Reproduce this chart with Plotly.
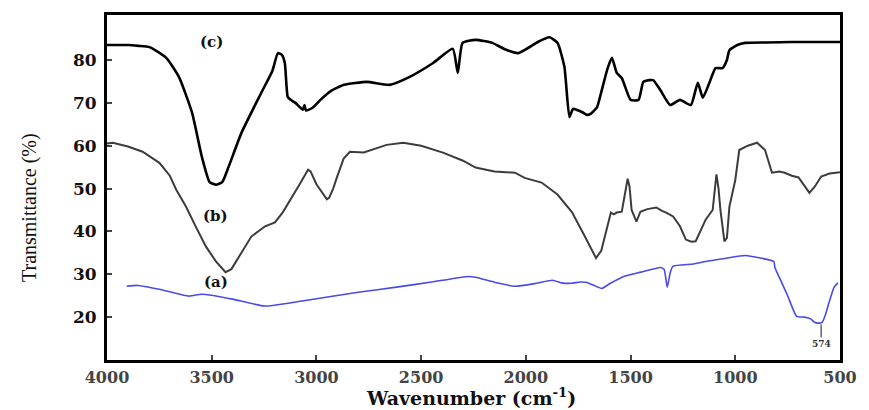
import plotly.graph_objects as go

# Curve (c) - black
c_wn = [4000, 3900, 3850, 3797, 3717, 3656, 3594, 3547, 3510, 3480, 3450, 3420, 3358, 3264, 3210, 3184, 3165, 3151, 3137, 3123,
        3100, 3065, 3057, 3050, 3020, 2981, 2930, 2868, 2760, 2651, 2557, 2443, 2349, 2325, 2302, 2240, 2160, 2100, 2038,
        1990, 1943, 1887, 1849, 1816, 1792, 1775, 1759, 1730, 1708, 1689, 1660, 1641, 1610, 1589, 1566, 1542, 1500, 1462,
        1439, 1410, 1392, 1358, 1311, 1264, 1212, 1179, 1155, 1125, 1094, 1061, 1040, 1028, 990, 953, 850, 731, 600, 519, 500]
c_t = [83.5, 83.5, 83.3, 83.0, 80.5, 76.0, 67.7, 57.4, 51.5, 50.9, 51.5, 55.0, 63.0, 72.3, 77.5, 81.6, 81.2, 79.3, 71.4, 70.7,
       70.0, 68.4, 69.5, 68.2, 68.8, 70.7, 72.8, 74.2, 74.9, 74.2, 76.0, 79.3, 82.6, 77.0, 84.0, 84.7, 84.0, 82.5, 81.6,
       82.8, 84.2, 85.3, 84.0, 78.4, 66.7, 68.6, 68.4, 67.8, 67.2, 67.5, 69.0, 72.3, 78.0, 80.5, 77.0, 75.8, 70.7, 70.7,
       74.9, 75.3, 75.3, 73.0, 69.5, 70.7, 69.5, 74.7, 71.2, 74.5, 78.1, 78.1, 80.0, 82.3, 83.5, 84.0, 84.1, 84.2, 84.2, 84.2, 84.2]

# Curve (b) - gray
b_wn = [4000, 3972, 3900, 3830, 3750, 3700, 3670, 3623, 3575, 3528, 3480, 3434, 3406, 3360, 3311, 3245, 3198, 3160, 3123,
        3080, 3040, 3028, 3000, 2950, 2939, 2920, 2901, 2870, 2840, 2774, 2665, 2585, 2500, 2396, 2300, 2240, 2150, 2052,
        2006, 1925, 1849, 1780, 1720, 1665, 1640, 1613, 1594, 1580, 1566, 1542, 1519, 1514, 1505, 1495, 1472, 1453, 1420,
        1377, 1350, 1330, 1297, 1264, 1236, 1210, 1189, 1141, 1108, 1090, 1080, 1071, 1052, 1040, 1028, 1000, 981, 940, 896,
        858, 825, 790, 764, 730, 698, 646, 620, 590, 550, 519, 500]
b_t = [60.5, 60.7, 59.8, 58.6, 56.0, 53.0, 49.8, 45.8, 41.0, 36.5, 33.0, 30.5, 31.2, 35.0, 38.8, 41.2, 42.1, 44.5, 47.4,
       51.0, 54.4, 54.0, 51.0, 47.5, 47.9, 50.0, 52.8, 57.0, 58.6, 58.4, 60.2, 60.7, 60.0, 58.4, 56.5, 54.9, 54.0, 53.7,
       52.5, 51.4, 48.6, 44.5, 39.0, 33.8, 35.5, 40.5, 44.4, 44.0, 44.4, 44.6, 50.5, 52.3, 50.5, 45.0, 42.3, 44.6, 45.2,
       45.6, 44.8, 44.4, 43.5, 41.2, 38.1, 37.6, 37.7, 42.8, 45.0, 53.3, 50.0, 45.0, 37.7, 38.5, 45.8, 52.0, 59.0, 60.0, 60.7,
       59.0, 53.7, 54.0, 53.7, 53.0, 52.6, 49.0, 50.5, 52.8, 53.5, 53.7, 53.8]

# Curve (a) - blue
a_wn = [3906, 3854, 3750, 3608, 3560, 3528, 3400, 3245, 3000, 2800, 2618, 2450, 2274, 2240, 2146, 2052, 1950, 1873, 1830,
        1783, 1740, 1708, 1670, 1637, 1600, 1533, 1450, 1358, 1340, 1325, 1310, 1297, 1200, 1141, 1050, 953, 880, 816, 811,
        792, 750, 707, 670, 640, 622, 600, 585, 570, 555, 528, 510]
a_t = [27.2, 27.4, 26.5, 24.9, 25.3, 25.3, 24.2, 22.6, 24.3, 25.8, 27.0, 28.2, 29.5, 29.3, 28.1, 27.2, 27.9, 28.6, 28.0,
       27.9, 28.2, 28.1, 27.3, 26.7, 27.8, 29.5, 30.5, 31.6, 31.2, 27.0, 30.5, 31.9, 32.4, 33.0, 33.7, 34.4, 33.8, 33.0, 31.6,
       29.5, 25.0, 20.2, 20.0, 19.6, 18.8, 18.6, 18.8, 20.5, 23.0, 27.0, 28.0]

x_ticks = [4000, 3500, 3000, 2500, 2000, 1500, 1000, 500]
y_ticks = [20, 30, 40, 50, 60, 70, 80]

SERIF = "Liberation Serif"
BOLD = "DejaVu Serif"

fig = go.Figure()
fig.add_trace(go.Scatter(x=a_wn, y=a_t, mode="lines", line=dict(color="#4a4ae8", width=1.6, shape="spline", smoothing=0.5), showlegend=False))
fig.add_trace(go.Scatter(x=b_wn, y=b_t, mode="lines", line=dict(color="#3c3c3c", width=2), showlegend=False))
fig.add_trace(go.Scatter(x=c_wn, y=c_t, mode="lines", line=dict(color="#000000", width=2.6, shape="spline", smoothing=0.5), showlegend=False))

for txt, xx, yy in [("(c)", 3500, 84.3), ("(b)", 3480, 43.5), ("(a)", 3480, 28.3)]:
    fig.add_annotation(x=xx, y=yy, text=txt, showarrow=False,
                       font=dict(family=BOLD, size=15, color="#111", weight="bold"))

fig.add_annotation(x=590, y=18.3, text="574", showarrow=True, arrowhead=0, arrowwidth=1.2,
                   ax=0, ay=13, font=dict(family=BOLD, size=9, color="#333", weight="bold"), yanchor="top")

fig.add_annotation(xref="paper", yref="paper", x=-0.1066, y=0.443, text="Transmittance (%)", textangle=-90,
                   xanchor="center", yanchor="middle",
                   showarrow=False, font=dict(family=SERIF, size=20, color="#111"))
fig.add_annotation(xref="paper", yref="paper", x=0.497, y=-0.108, text="Wavenumber (cm<sup>-1</sup>)",
                   showarrow=False, xanchor="center", yanchor="middle",
                   font=dict(family=BOLD, size=19, color="#111", weight="bold"))

fig.update_layout(
    width=869, height=410,
    margin=dict(l=107, r=21, t=15, b=50),
    paper_bgcolor="white", plot_bgcolor="white",
    xaxis=dict(range=[4000, 500], tickvals=x_ticks, ticks="inside", ticklen=5, tickwidth=1.5,
               showline=True, linewidth=3, linecolor="black", mirror=True, showgrid=False, zeroline=False,
               ticklabelstandoff=1,
               tickfont=dict(family=BOLD, size=16, color="#444", weight="bold")),
    yaxis=dict(range=[10, 90.5], tickvals=y_ticks, ticks="inside", ticklen=5, tickwidth=1.5,
               showline=True, linewidth=3, linecolor="black", mirror=True, showgrid=False, zeroline=False,
               ticklabelstandoff=4,
               tickfont=dict(family=BOLD, size=17, color="#111", weight="bold")),
)

fig.write_html("out.html")
